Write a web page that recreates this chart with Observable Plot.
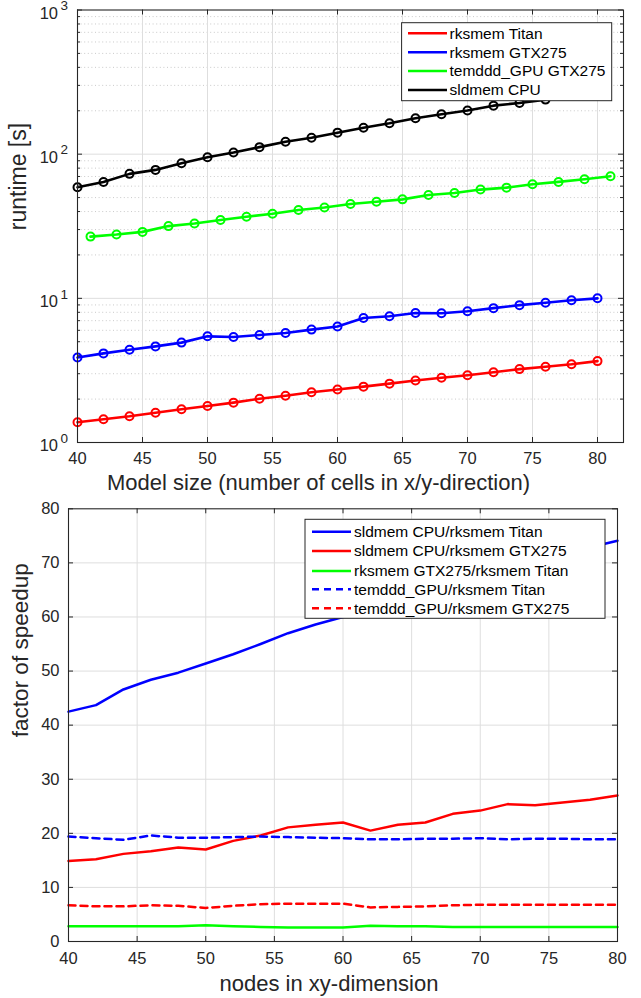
<!DOCTYPE html>
<html><head><meta charset="utf-8">
<script src="https://cdn.jsdelivr.net/npm/d3@7"></script>
<script src="https://cdn.jsdelivr.net/npm/@observablehq/plot@0.6"></script>
<style>
body{margin:0;background:#fff;}
#chart{width:641px;}
#chart svg{display:block;}
</style></head><body><div id="chart"></div>
<script>
// ---------- Data: top chart (runtime, log scale) ----------
const xEven = [40,42,44,46,48,50,52,54,56,58,60,62,64,66,68,70,72,74,76,78,80];
const xOdd = [41,43,45,47,49,51,53,55,57,59,61,63,65,67,69,71,73,75,77,79,81];
const xCpu = [40,42,44,46,48,50,52,54,56,58,60,62,64,66,68,70,72,74,76];
const rksmemTitan = [1.38,1.45,1.52,1.61,1.70,1.79,1.89,2.01,2.11,2.23,2.33,2.44,2.56,2.69,2.81,2.93,3.07,3.23,3.35,3.49,3.67];
const rksmemGTX275 = [3.89,4.15,4.40,4.64,4.93,5.45,5.39,5.57,5.75,6.07,6.37,7.31,7.51,7.92,7.88,8.14,8.55,8.97,9.31,9.71,10.0];
const temdddGTX275 = [26.8,27.7,28.9,31.7,33.0,34.9,36.8,38.6,41.0,42.7,45.1,46.8,48.6,52.1,53.8,56.8,58.6,61.8,64.2,67.0,70.3];
const sldmemCPU = [58.9,64.2,73,77.8,86.6,95.2,102.7,111.9,122,130,141,152.7,163.7,177.4,189,201,217,226.5,239];
const topLegendLabels = ["rksmem Titan","rksmem GTX275","temddd_GPU GTX275","sldmem CPU"];
const topColors = ["#ff0000","#0000ff","#00ff00","#000000"];
const topXTicks = [40,45,50,55,60,65,70,75,80];
const topYDecades = [1,10,100,1000];
const topXLabel = "Model size (number of cells in x/y-direction)";
const topYLabel = "runtime [s]";

// ---------- Data: bottom chart (speedup) ----------
const cpuOverTitan = [42.5,43.7,46.6,48.4,49.7,51.4,53.1,55.0,57.0,58.6,60.0,61.5,63.2,64.8,66.4,67.9,69.4,70.8,72.0,72.9,74.1];
const cpuOverGTX = [14.9,15.2,16.2,16.7,17.4,17.0,18.6,19.6,21.1,21.6,22.0,20.5,21.6,22.0,23.6,24.2,25.4,25.2,25.7,26.2,27.0];
const gtxOverTitan = [2.8,2.8,2.8,2.8,2.8,3.0,2.8,2.7,2.6,2.6,2.6,2.9,2.8,2.8,2.7,2.7,2.7,2.7,2.7,2.7,2.7];
const temOverTitan = [19.4,19.1,18.8,19.6,19.2,19.2,19.3,19.4,19.3,19.2,19.1,18.9,18.9,19.0,19.0,19.1,18.9,19.0,19.0,18.9,18.9];
const temOverGTX = [6.7,6.5,6.5,6.7,6.6,6.2,6.6,6.9,7.0,7.0,7.0,6.3,6.4,6.5,6.7,6.8,6.8,6.8,6.8,6.8,6.8];
const bottomLegendLabels = ["sldmem CPU/rksmem Titan","sldmem CPU/rksmem GTX275","rksmem GTX275/rksmem Titan","temddd_GPU/rksmem Titan","temddd_GPU/rksmem GTX275"];
const bottomColors = ["#0000ff","#ff0000","#00ff00","#0000ff","#ff0000"];
const bottomDashed = [false,false,false,true,true];
const bottomXTicks = [40,45,50,55,60,65,70,75,80];
const bottomYTicks = [0,10,20,30,40,50,60,70,80];
const bottomXLabel = "nodes in xy-dimension";
const bottomYLabel = "factor of speedup";

// ---------- Styling ----------
const FONT = "'Liberation Sans', Arial, Helvetica, sans-serif";
const AX = "#262626";
const GRID = "#dedede";
const TICKFS = 16.5;

function series(xs, ys){ return xs.map((x,i)=>({x, y: ys[i]})); }

function addLegend(svg, opt){
  const g = d3.select(svg).append("g").attr("font-family", FONT).attr("font-size", opt.fontSize)
    .attr("text-anchor", "start");
  g.append("rect").attr("x", opt.x).attr("y", opt.y).attr("width", opt.w).attr("height", opt.h)
    .attr("fill", "white").attr("stroke", AX).attr("stroke-width", 1);
  opt.rows.forEach((r, i) => {
    const yy = opt.rowY[i];
    g.append("line").attr("x1", opt.lx1).attr("x2", opt.lx2).attr("y1", yy).attr("y2", yy)
      .attr("stroke", r.color).attr("stroke-width", 2.5)
      .attr("stroke-dasharray", r.dash ? "7,5" : null);
    g.append("text").attr("x", opt.tx).attr("y", yy).attr("dy", "0.35em")
      .attr("text-anchor", "start").attr("fill", "#000").text(r.label);
  });
}

// ---------- Top chart ----------
{
  const W = 641, H = 500, mL = 77, mR = 18, mT = 9.5, mB = 58;
  const iH = H - mT - mB, iW = W - mL - mR;
  const minorY = [];
  for (const d of [1,10,100]) for (let k = 2; k <= 9; k++) minorY.push(d*k);
  const red = series(xEven, rksmemTitan), blue = series(xEven, rksmemGTX275),
        green = series(xOdd, temdddGTX275), black = series(xCpu, sldmemCPU);
  const sets = [red, blue, green, black];
  const marks = [
    Plot.ruleY(minorY, {y: d=>d, stroke: "#c4c4c4", strokeDasharray: "1,2.6", strokeWidth: 0.9}),
    Plot.ruleX(topXTicks.slice(1), {x: d=>d, stroke: GRID}),
    Plot.ruleY([10,100], {y: d=>d, stroke: GRID}),
  ];
  sets.forEach((s, i) => {
    marks.push(Plot.line(s, {x: "x", y: "y", stroke: topColors[i], strokeWidth: 2.6}));
    marks.push(Plot.dot(s, {x: "x", y: "y", r: 4, stroke: topColors[i], strokeWidth: 2, fill: "none"}));
  });
  marks.push(
    Plot.frame({stroke: AX, strokeWidth: 1.1}),
    Plot.tickX(topXTicks, {x: d=>d, stroke: AX, insetTop: iH - 5}),
    Plot.tickX(topXTicks, {x: d=>d, stroke: AX, insetBottom: iH - 5}),
    Plot.tickY(topYDecades, {y: d=>d, stroke: AX, insetRight: iW - 5}),
    Plot.tickY(topYDecades, {y: d=>d, stroke: AX, insetLeft: iW - 5}),
    Plot.tickY(minorY, {y: d=>d, stroke: AX, insetRight: iW - 3}),
    Plot.tickY(minorY, {y: d=>d, stroke: AX, insetLeft: iW - 3}),
    Plot.text(topXTicks, {x: d=>d, text: d=>String(d), frameAnchor: "bottom", dy: 16.5, lineAnchor: "middle", fontSize: TICKFS, fill: AX}),
    Plot.text(topYDecades, {y: d=>d, text: ()=>"10", frameAnchor: "left", textAnchor: "end", dx: -19.5, dy: 3.5, lineAnchor: "middle", fontSize: TICKFS, fill: AX}),
    Plot.text(topYDecades, {y: d=>d, text: d=>String(Math.round(Math.log10(d))), frameAnchor: "left", textAnchor: "start", dx: -17, dy: -4, lineAnchor: "middle", fontSize: 13.5, fill: AX}),
    Plot.text([topXLabel], {text: d=>d, frameAnchor: "bottom", dx: -32, dy: 40, lineAnchor: "middle", fontSize: 22, fill: AX}),
    Plot.text([topYLabel], {text: d=>d, frameAnchor: "left", rotate: -90, dx: -58.5, dy: 4, lineAnchor: "middle", fontSize: 23, fill: AX})
  );
  const p = Plot.plot({
    width: W, height: H, marginLeft: mL, marginRight: mR, marginTop: mT, marginBottom: mB,
    x: {domain: [40, 82], axis: null},
    y: {type: "log", domain: [1, 1000], axis: null},
    style: {fontFamily: FONT, background: "white", overflow: "visible"},
    marks
  });
  addLegend(p, {x: 401.6, y: 22.7, w: 210.1, h: 78, fontSize: 15.5,
    rowY: [33.3, 52.3, 71, 90], lx1: 408, lx2: 447, tx: 449.5,
    rows: topLegendLabels.map((l, i) => ({label: l, color: topColors[i], dash: false}))});
  document.getElementById("chart").appendChild(p);
}

// ---------- Bottom chart ----------
{
  const W = 641, H = 498, mL = 68, mR = 24, mT = 8.3, mB = 57;
  const iH = H - mT - mB, iW = W - mL - mR;
  const ys = [cpuOverTitan, cpuOverGTX, gtxOverTitan, temOverTitan, temOverGTX];
  const marks = [
    Plot.ruleX(bottomXTicks.slice(1, -1), {x: d=>d, stroke: GRID}),
    Plot.ruleY(bottomYTicks.slice(1, -1), {y: d=>d, stroke: GRID}),
  ];
  ys.forEach((v, i) => {
    marks.push(Plot.line(series(xEven, v), {x: "x", y: "y", stroke: bottomColors[i], strokeWidth: 2.5,
      strokeDasharray: bottomDashed[i] ? "7,5" : null}));
  });
  marks.push(
    Plot.frame({stroke: AX, strokeWidth: 1.1}),
    Plot.tickX(bottomXTicks, {x: d=>d, stroke: AX, insetTop: iH - 5}),
    Plot.tickX(bottomXTicks, {x: d=>d, stroke: AX, insetBottom: iH - 5}),
    Plot.tickY(bottomYTicks, {y: d=>d, stroke: AX, insetRight: iW - 5}),
    Plot.tickY(bottomYTicks, {y: d=>d, stroke: AX, insetLeft: iW - 5}),
    Plot.text(bottomXTicks, {x: d=>d, text: d=>String(d), frameAnchor: "bottom", dy: 17, lineAnchor: "middle", fontSize: TICKFS, fill: AX}),
    Plot.text(bottomYTicks, {y: d=>d, text: d=>String(d), frameAnchor: "left", textAnchor: "end", dx: -9, lineAnchor: "middle", fontSize: TICKFS, fill: AX}),
    Plot.text([bottomXLabel], {text: d=>d, frameAnchor: "bottom", dx: -14, dy: 42, lineAnchor: "middle", fontSize: 22, fill: AX}),
    Plot.text([bottomYLabel], {text: d=>d, frameAnchor: "left", rotate: -90, dx: -48, dy: 12, lineAnchor: "middle", fontSize: 22.5, fill: AX})
  );
  const p = Plot.plot({
    width: W, height: H, marginLeft: mL, marginRight: mR, marginTop: mT, marginBottom: mB,
    x: {domain: [40, 80], axis: null},
    y: {domain: [0, 80], axis: null},
    style: {fontFamily: FONT, background: "white", overflow: "visible"},
    marks
  });
  addLegend(p, {x: 305, y: 19.3, w: 300, h: 99, fontSize: 15.5,
    rowY: [31.7, 51, 71, 89.3, 108.3], lx1: 312, lx2: 351, tx: 354,
    rows: bottomLegendLabels.map((l, i) => ({label: l, color: bottomColors[i], dash: bottomDashed[i]}))});
  document.getElementById("chart").appendChild(p);
}
</script>
</body></html>
